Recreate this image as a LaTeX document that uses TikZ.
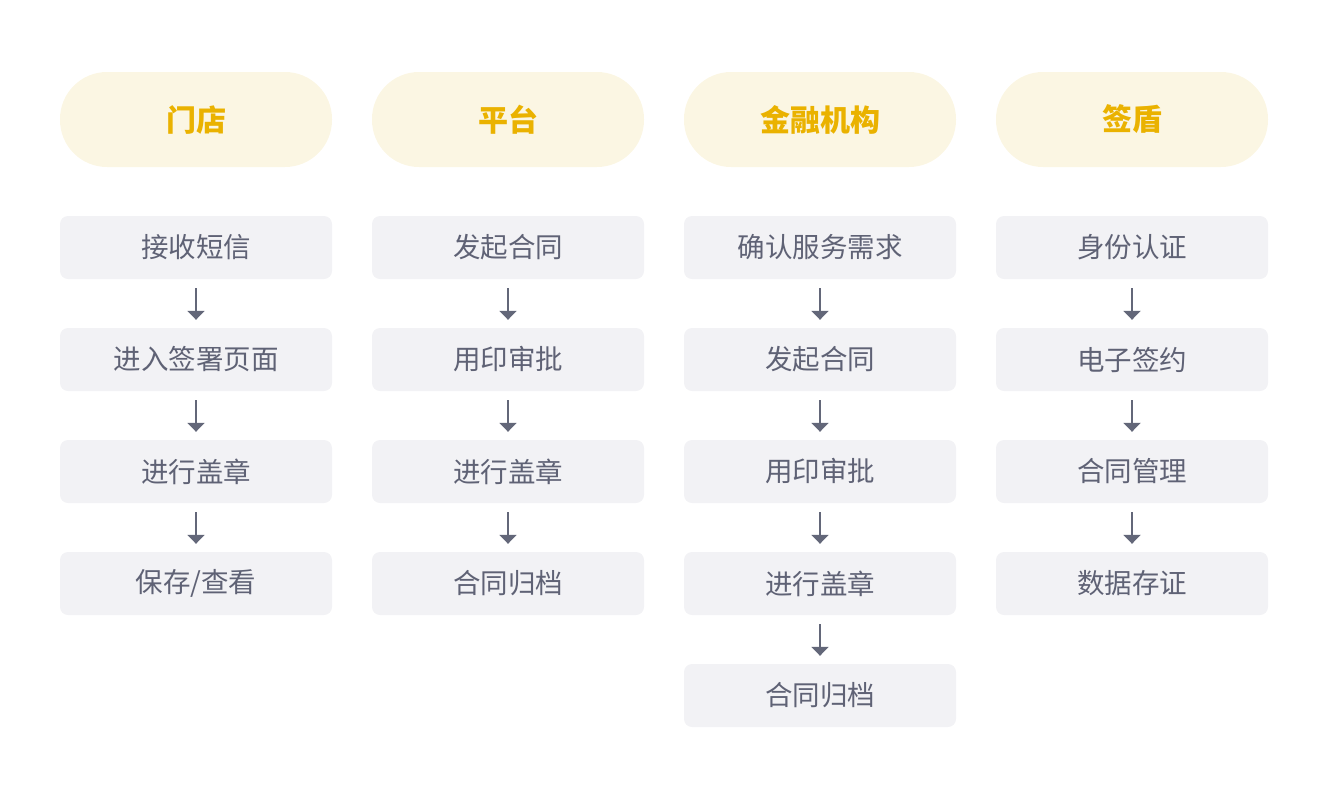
\documentclass[tikz,border=0pt]{standalone}
\usepackage{fontspec}
\setmainfont{Noto Sans CJK SC}
\usepackage{tikz}
\usetikzlibrary{positioning,arrows.meta}
\definecolor{headfill}{HTML}{FBF6E3}
\definecolor{headtext}{HTML}{EAB200}
\definecolor{itemfill}{HTML}{F2F2F5}
\definecolor{itemtext}{HTML}{5F6275}
\definecolor{arrowcol}{HTML}{636779}

\begin{document}
\begin{tikzpicture}[x=1pt,y=1pt,node distance=48.6pt,
	head/.style={rounded corners=47pt,fill=headfill,text=headtext,minimum width=272pt,minimum height=95pt,inner sep=0pt,font=\fontsize{30}{30}\selectfont\bfseries},
	item/.style={rounded corners=8pt,fill=itemfill,text=itemtext,minimum width=272pt,minimum height=63pt,inner sep=0pt,font=\fontsize{27.5}{27.5}\selectfont},
	flow/.style={-{Triangle[width=17pt,length=9pt]},draw=arrowcol,fill=arrowcol,line width=2pt,shorten <=9pt,shorten >=8pt}]
	\useasboundingbox (0,0) rectangle (1328,-804);

	% 门店
	\node[head] (store) at (196,-119.5) {门店};
	\node[item,below=of store] (store1) {接收短信};
	\node[item,below=of store1] (store2) {进入签署页面};
	\node[item,below=of store2] (store3) {进行盖章};
	\node[item,below=of store3] (store4) {保存/查看};
	\draw[flow] (store1) -- (store2);
	\draw[flow] (store2) -- (store3);
	\draw[flow] (store3) -- (store4);

	% 平台
	\node[head] (plat) at (508,-119.5) {平台};
	\node[item,below=of plat] (plat1) {发起合同};
	\node[item,below=of plat1] (plat2) {用印审批};
	\node[item,below=of plat2] (plat3) {进行盖章};
	\node[item,below=of plat3] (plat4) {合同归档};
	\draw[flow] (plat1) -- (plat2);
	\draw[flow] (plat2) -- (plat3);
	\draw[flow] (plat3) -- (plat4);

	% 金融机构
	\node[head] (bank) at (820,-119.5) {金融机构};
	\node[item,below=of bank] (bank1) {确认服务需求};
	\node[item,below=of bank1] (bank2) {发起合同};
	\node[item,below=of bank2] (bank3) {用印审批};
	\node[item,below=of bank3] (bank4) {进行盖章};
	\node[item,below=of bank4] (bank5) {合同归档};
	\draw[flow] (bank1) -- (bank2);
	\draw[flow] (bank2) -- (bank3);
	\draw[flow] (bank3) -- (bank4);
	\draw[flow] (bank4) -- (bank5);

	% 签盾
	\node[head] (sign) at (1132,-119.5) {签盾};
	\node[item,below=of sign] (sign1) {身份认证};
	\node[item,below=of sign1] (sign2) {电子签约};
	\node[item,below=of sign2] (sign3) {合同管理};
	\node[item,below=of sign3] (sign4) {数据存证};
	\draw[flow] (sign1) -- (sign2);
	\draw[flow] (sign2) -- (sign3);
	\draw[flow] (sign3) -- (sign4);
\end{tikzpicture}
\end{document}
